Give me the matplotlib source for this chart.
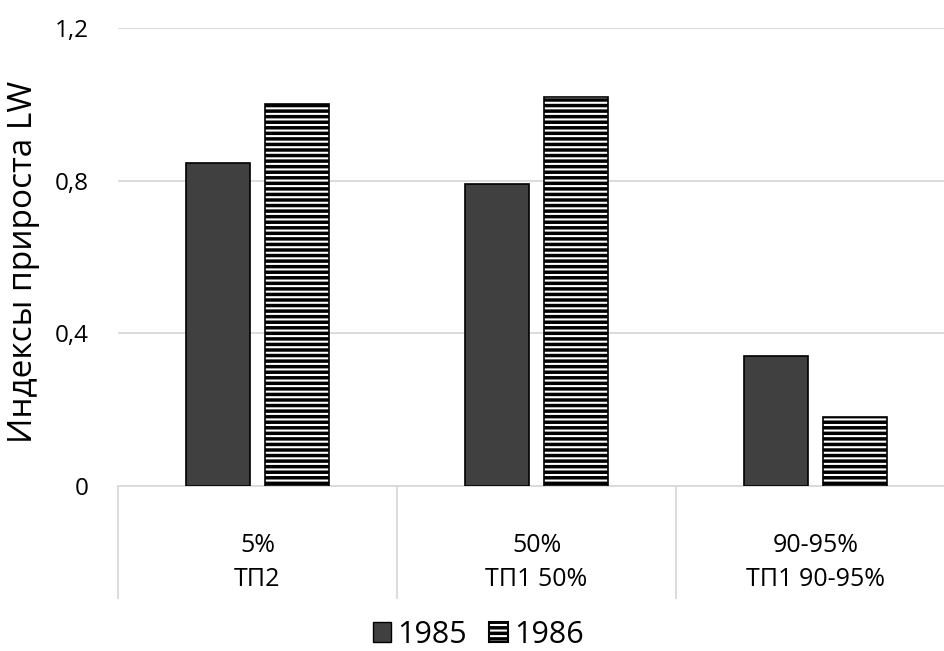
import matplotlib
matplotlib.use("Agg")
import matplotlib.pyplot as plt
import matplotlib.transforms as mtransforms
from matplotlib.patches import Patch
from matplotlib.legend_handler import HandlerTuple
import numpy as np

plt.rcParams['font.family'] = ['Open Sans', 'DejaVu Sans']
plt.rcParams['hatch.linewidth'] = 1.5

categories_top = ["5%", "50%", "90-95%"]
categories_bottom = ["ТП2", "ТП1 50%", "ТП1 90-95%"]
series_names = ["1985", "1986"]
values_1985 = [0.845, 0.79, 0.34]
values_1986 = [1.0, 1.02, 0.18]
yticks = [0, 0.4, 0.8, 1.2]
ytick_labels = ["0", "0,4", "0,8", "1,2"]
ylabel = "Индексы прироста LW"

W, H = 944, 651
fig = plt.figure(figsize=(W / 100, H / 100), dpi=100)
left, right, top, bottom = 118, 955, 28, 486
ax = fig.add_axes([left / W, 1 - bottom / H, (right - left) / W, (bottom - top) / H])

x = np.arange(len(categories_top))
bw = 0.226
off = 0.1416
grid_c = "#d9d9d9"

ax.bar(x - off, values_1985, width=bw, color="#404040", edgecolor="black", linewidth=1.2, zorder=3)
ax.bar(x + off, values_1986, width=bw, color="black", edgecolor="white", hatch="---", linewidth=0, zorder=3)
ax.bar(x + off, values_1986, width=bw, fill=False, edgecolor="black", linewidth=1.2, zorder=4)

ax.set_xlim(-0.5, 2.5)
ax.set_ylim(0, 1.2)
ax.set_yticks(yticks)
ax.set_yticklabels(ytick_labels, fontsize=17.5)
ax.tick_params(axis='y', length=0, pad=21)
ax.set_xticks([])
ax.yaxis.grid(True, color=grid_c, linewidth=1.3, zorder=0)
ax.set_axisbelow(True)
for s in ["left", "right", "top"]:
    ax.spines[s].set_visible(False)
ax.spines["bottom"].set_color(grid_c)
ax.spines["bottom"].set_linewidth(1.3)

ax.set_ylabel(ylabel, fontsize=24)
ax.yaxis.set_label_coords((40 - left) / (right - left), 0.49)

trans = mtransforms.blended_transform_factory(ax.transData, ax.transAxes)
sep_bottom = -(598 - 486) / (bottom - top)
for xb in [-0.5, 0.5, 1.5, 2.5]:
    ax.plot([xb, xb], [0, sep_bottom], transform=trans, color=grid_c, linewidth=1.3, clip_on=False)
y1 = -(546 - 486) / (bottom - top)
y2 = -(579 - 486) / (bottom - top)
for i in range(len(categories_top)):
    ax.text(x[i], y1, categories_top[i], transform=trans, ha="center", va="center", fontsize=18)
    ax.text(x[i], y2, categories_bottom[i], transform=trans, ha="center", va="center", fontsize=18)

h1 = Patch(facecolor="#404040", edgecolor="black", linewidth=1.0)
h2 = (Patch(facecolor="black", edgecolor="white", hatch="---", linewidth=0.0),
      Patch(fill=False, edgecolor="black", linewidth=1.5))
fig.legend([h1, h2], series_names, loc="center", bbox_to_anchor=(478 / W, 1 - 635 / H), ncol=2,
           frameon=False, fontsize=22, handlelength=0.62, handleheight=0.62, handletextpad=0.2,
           columnspacing=0.7, handler_map={tuple: HandlerTuple(ndivide=1, pad=0)})

fig.savefig("out.png", dpi=100)
